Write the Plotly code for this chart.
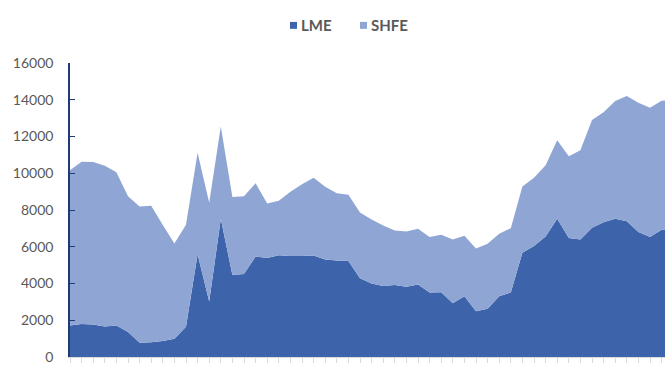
import plotly.graph_objects as go

periods = list(range(53))
lme = [1720, 1800, 1770, 1660, 1710, 1360, 780, 800, 870, 1000,
       1640, 5590, 3020, 7520, 4460, 4520, 5470, 5390, 5540, 5490,
       5500, 5520, 5310, 5250, 5220, 4280, 4000, 3870, 3920, 3820,
       3940, 3510, 3530, 2920, 3300, 2490, 2630, 3300, 3510, 5680,
       6040, 6560, 7520, 6480, 6400, 7030, 7340, 7520, 7390, 6800,
       6530, 6920, 6950]
shfe = [8450, 8830, 8840, 8750, 8340, 7390, 7410, 7430, 6310, 5180,
        5560, 5520, 5370, 5030, 4250, 4230, 3990, 2960, 2960, 3500,
        3900, 4240, 3950, 3660, 3610, 3590, 3480, 3290, 2970, 3010,
        3040, 3020, 3120, 3480, 3300, 3410, 3540, 3410, 3500, 3600,
        3720, 3880, 4270, 4450, 4850, 5870, 5980, 6410, 6820, 7030,
        7040, 7020, 7050]
y_ticks = [0, 2000, 4000, 6000, 8000, 10000, 12000, 14000, 16000]
y_tick_labels = ["0", "2000", "4000", "6000", "8000", "10000", "12000", "14000", "16000"]

C_LME = "#3D64AB"
C_SHFE = "#8FA5D4"
TXT = "#595959"

fig = go.Figure()
fig.add_trace(go.Scatter(x=periods, y=lme, name="LME", stackgroup="one",
                         mode="none", fillcolor=C_LME, showlegend=False))
fig.add_trace(go.Scatter(x=periods, y=shfe, name="SHFE", stackgroup="one",
                         mode="none", fillcolor=C_SHFE, showlegend=False))

W, H = 665, 365
ML, MT, MB = 70, 62.5, 5.5
PW, PH = W - ML, H - MT - MB

def px_x(p):
    return (p - ML) / PW

def px_y(p):
    return (H - MB - p) / PH

# legend
for sx, tx, label, col in [(290, 298.5, "LME", C_LME), (360, 368.5, "SHFE", C_SHFE)]:
    fig.add_shape(type="rect", xref="paper", yref="paper",
                  x0=px_x(sx), x1=px_x(sx + 7), y0=px_y(28), y1=px_y(21),
                  fillcolor=col, line_width=0)
    fig.add_annotation(x=px_x(tx), y=px_y(24.5), xref="paper", yref="paper",
                       text=f"<b>{label}</b>", showarrow=False,
                       xanchor="left", yanchor="middle",
                       font=dict(family="Lato", size=15, color=TXT))

fig.update_layout(
    width=W, height=H,
    margin=dict(l=ML, r=0, t=MT, b=MB),
    paper_bgcolor="white", plot_bgcolor="white",
    showlegend=False,
    font=dict(family="Lato", size=14, color=TXT),
)
fig.update_xaxes(range=[0, (W - ML) / 11.6], tickvals=periods, showticklabels=False,
                 ticks="outside", ticklen=5, tickcolor="#D9D9D9",
                 showline=True, linecolor="#D9D9D9", linewidth=1,
                 showgrid=False, zeroline=False)
fig.update_yaxes(range=[0, 16000], tickvals=y_ticks, ticktext=y_tick_labels,
                 ticks="inside", ticklen=5, ticklabeloverflow="allow",
                 tickcolor="#1F3B73", showline=True, linecolor="#1F3B73", linewidth=1.5,
                 showgrid=False, zeroline=False, ticklabelstandoff=12,
                 tickfont=dict(family="Lato", size=14, color=TXT))

fig.write_html("out.html")
